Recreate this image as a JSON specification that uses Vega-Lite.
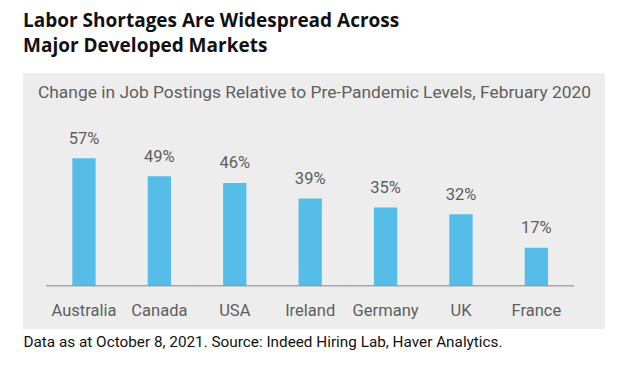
{
  "$schema": "https://vega.github.io/schema/vega-lite/v6.json",
  "width": 582,
  "height": 256,
  "autosize": {"type": "none"},
  "padding": {"left": 23, "top": 73, "right": 23, "bottom": 36},
  "background": "white",
  "title": {
    "text": ["Labor Shortages Are Widespread Across", "Major Developed Markets"],
    "anchor": "start",
    "frame": "group",
    "font": "Open Sans",
    "fontSize": 19,
    "fontWeight": "bold",
    "color": "#111111",
    "lineHeight": 25,
    "baseline": "bottom",
    "offset": -1.5
  },
  "config": {
    "view": {"fill": "#ededed", "stroke": null},
    "text": {"font": "Roboto"}
  },
  "data": {
    "values": [
      {"country": "Australia", "value": 0.57},
      {"country": "Canada", "value": 0.49},
      {"country": "USA", "value": 0.46},
      {"country": "Ireland", "value": 0.39},
      {"country": "Germany", "value": 0.35},
      {"country": "UK", "value": 0.32},
      {"country": "France", "value": 0.17}
    ]
  },
  "resolve": {"axis": {"x": "independent"}},
  "layer": [
    {
      "mark": {"type": "bar", "color": "#56bde9"},
      "encoding": {
        "x": {
          "field": "country",
          "type": "nominal",
          "sort": null,
          "scale": {"paddingInner": 0.691, "paddingOuter": 0.705, "align": 0.464},
          "axis": {
            "orient": "bottom",
            "offset": -43.3,
            "domain": false,
            "ticks": false,
            "tickSize": 0,
            "labelAngle": 0,
            "labelFont": "Roboto",
            "labelFontSize": 16.5,
            "labelColor": "#5e5e5e",
            "labelPadding": 16.3,
            "title": "Data as at October 8, 2021. Source: Indeed Hiring Lab, Haver Analytics.",
            "titleFont": "Roboto",
            "titleFontSize": 15.3,
            "titleFontWeight": "normal",
            "titleColor": "#111111",
            "titleAnchor": "start",
            "titleAlign": "left",
            "titlePadding": 15.8
          }
        },
        "y": {
          "field": "value",
          "type": "quantitative",
          "scale": {"domain": [-0.1937, 0.952], "nice": false, "zero": false},
          "axis": null
        }
      }
    },
    {
      "mark": {"type": "tick", "color": "#8a8a8a", "size": 75.6, "thickness": 1.6},
      "encoding": {
        "x": {"field": "country", "type": "nominal", "sort": null, "axis": null},
        "y": {"datum": 0, "type": "quantitative", "axis": null}
      }
    },
    {
      "mark": {"type": "text", "baseline": "alphabetic", "dy": -14.5, "fontSize": 16.5, "color": "#5e5e5e", "font": "Roboto"},
      "encoding": {
        "x": {
          "field": "country",
          "type": "nominal",
          "sort": null,
          "axis": {
            "orient": "top",
            "offset": -28,
            "domain": false,
            "ticks": false,
            "tickSize": 0,
            "labels": false,
            "title": "Change in Job Postings Relative to Pre-Pandemic Levels, February 2020",
            "titleFont": "Roboto",
            "titleFontSize": 17.4,
            "titleFontWeight": "normal",
            "titleColor": "#5e5e5e",
            "titlePadding": 0
          }
        },
        "y": {"field": "value", "type": "quantitative", "axis": null},
        "text": {"field": "value", "type": "quantitative", "format": ".0%"}
      }
    }
  ]
}
